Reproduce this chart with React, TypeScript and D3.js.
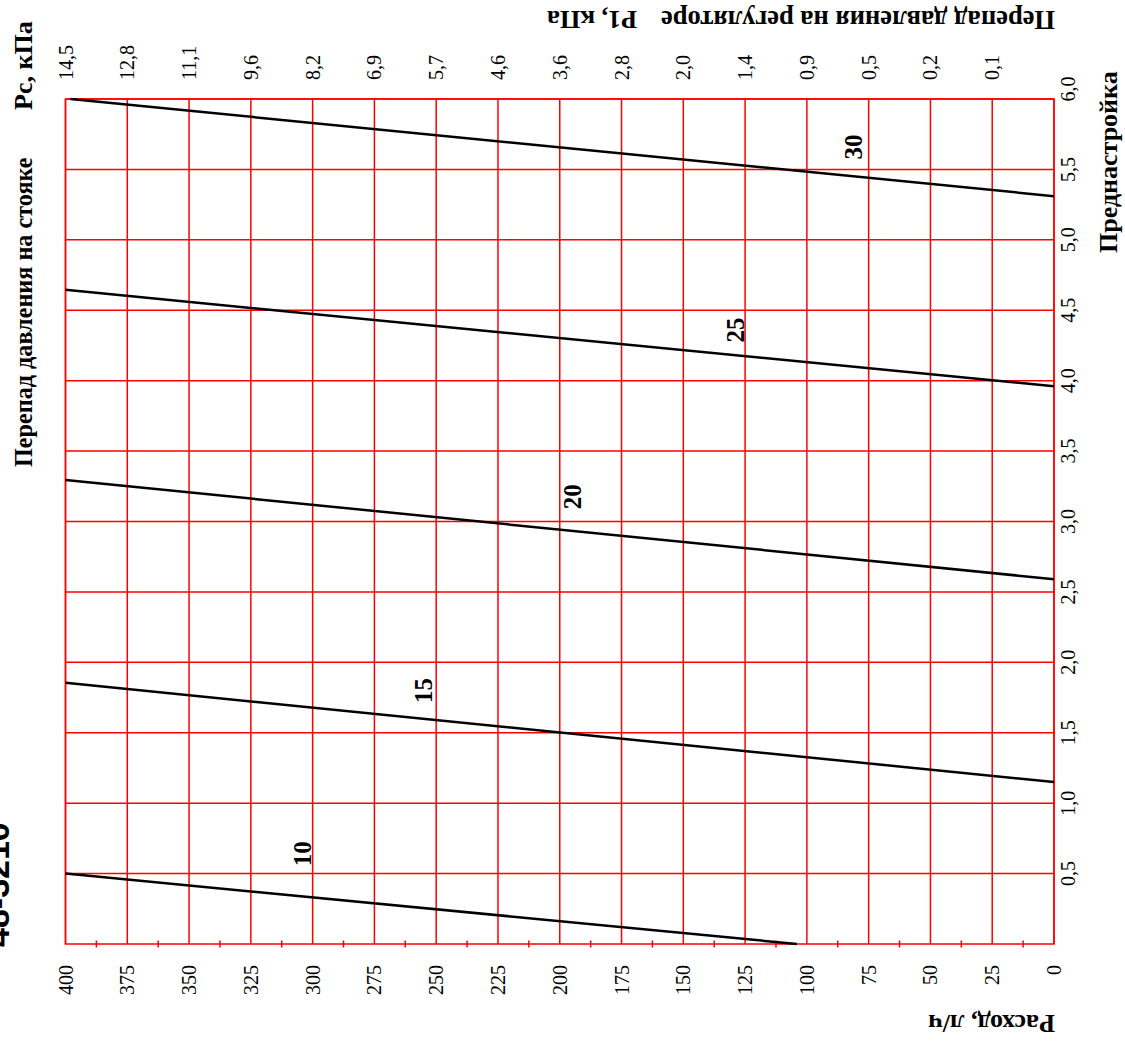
import React from 'react'
import * as d3 from 'd3'

// flow axis (drawn left-to-right as 400 -> 0)
const flowTicks = [400, 375, 350, 325, 300, 275, 250, 225, 200, 175, 150, 125, 100, 75, 50, 25, 0]
const flowMinorTicks = [387.5, 362.5, 337.5, 312.5, 287.5, 262.5, 237.5, 212.5, 187.5, 162.5, 137.5, 112.5, 87.5, 62.5, 37.5, 12.5]

// P1 labels shown on top at the flow positions 400..25
const p1Flows = [400, 375, 350, 325, 300, 275, 250, 225, 200, 175, 150, 125, 100, 75, 50, 25]
const p1Labels = ['14,5', '12,8', '11,1', '9,6', '8,2', '6,9', '5,7', '4,6', '3,6', '2,8', '2,0', '1,4', '0,9', '0,5', '0,2', '0,1']

// presetting axis
const presetTicks = [0.5, 1, 1.5, 2, 2.5, 3, 3.5, 4, 4.5, 5, 5.5, 6]
const presetLabels = ['0,5', '1,0', '1,5', '2,0', '2,5', '3,0', '3,5', '4,0', '4,5', '5,0', '5,5', '6,0']

// riser pressure lines (Pc, kPa): two end points each
const seriesNames = ['10', '15', '20', '25', '30']
const lineFlowA = [104, 0, 0, 0, 0]
const linePresetA = [0, 1.15, 2.59, 3.96, 5.31]
const lineFlowB = [400, 400, 400, 400, 398]
const linePresetB = [0.5, 1.855, 3.295, 4.645, 6.0]
// where each line's name sits
const labelFlow = [304, 255, 195, 129, 81]
const labelPreset = [0.64, 1.8, 3.175, 4.36, 5.66]

const W = 1125
const H = 1046
const serif = '"Liberation Serif", "Times New Roman", serif'
const sans = '"Liberation Sans", Arial, sans-serif'

export default function App() {
  const x = d3.scaleLinear().domain([400, 0]).range([65.5, 1054])
  const y = d3.scaleLinear().domain([0, 6]).range([944, 99])
  const line = d3.line<[number, number]>().x(d => x(d[0])).y(d => y(d[1]))

  const red = '#ff0000'

  return (
    <svg width={W} height={H} style={{ position: 'absolute', left: 0, top: 0, background: '#fff' }}>
      {/* grid */}
      {flowTicks.map(f => (
        <line key={'v' + f} x1={x(f)} x2={x(f)} y1={y(0)} y2={y(6)} stroke={red} strokeWidth={1.5} />
      ))}
      {presetTicks.map(p => (
        <line key={'h' + p} x1={x(400)} x2={x(0)} y1={y(p)} y2={y(p)} stroke={red} strokeWidth={1.5} />
      ))}
      {flowMinorTicks.map(f => (
        <line key={'m' + f} x1={x(f)} x2={x(f)} y1={y(0) - 3.5} y2={y(0) + 3.5} stroke={red} strokeWidth={1.5} />
      ))}
      <rect x={x(400)} y={y(6)} width={x(0) - x(400)} height={y(0) - y(6)} fill="none" stroke={red} strokeWidth={1.5} />

      {/* lines */}
      {seriesNames.map((s, i) => (
        <path
          key={'l' + s}
          d={line([[lineFlowA[i], linePresetA[i]], [lineFlowB[i], linePresetB[i]]]) || ''}
          stroke="#000"
          strokeWidth={2.5}
          fill="none"
        />
      ))}
      {seriesNames.map((s, i) => (
        <text
          key={'t' + s}
          transform={`translate(${x(labelFlow[i])},${y(labelPreset[i])}) rotate(-90)`}
          textAnchor="middle"
          dominantBaseline="central"
          fontFamily={serif}
          fontWeight="bold"
          fontSize={25}
        >
          {s}
        </text>
      ))}

      {/* bottom flow labels */}
      {flowTicks.map(f => (
        <text
          key={'bl' + f}
          transform={`translate(${x(f)},965) rotate(-90)`}
          textAnchor="end"
          dominantBaseline="central"
          fontFamily={serif}
          fontSize={20}
        >
          {f}
        </text>
      ))}

      {/* top P1 labels */}
      {p1Flows.map((f, i) => (
        <text
          key={'tl' + f}
          transform={`translate(${x(f)},80) rotate(-90)`}
          textAnchor="start"
          dominantBaseline="central"
          fontFamily={serif}
          fontSize={20}
        >
          {p1Labels[i]}
        </text>
      ))}

      {/* right preset labels */}
      {presetTicks.map((p, i) => (
        <text
          key={'rl' + p}
          transform={`translate(1068,${y(p) - (p === 6 ? 10 : 0)}) rotate(-90)`}
          textAnchor="middle"
          dominantBaseline="central"
          fontFamily={serif}
          fontSize={20}
        >
          {presetLabels[i]}
        </text>
      ))}

      {/* titles */}
      <g fontFamily={serif} fontWeight="bold" fontSize={26}>
        <text transform="translate(32,467) rotate(-90)" fontSize={24.2}>Перепад давления на стояке</text>
        <text transform="translate(32,110) rotate(-90)">Рс, кПа</text>
        <text transform="translate(8.5,947) rotate(-90)" fontFamily={sans} fontSize={34}>48-3210</text>
        <text transform="translate(1117,253) rotate(-90)">Преднастройка</text>
        <text transform="translate(1055,11) rotate(180)" fontSize={26.5}>Перепад давления на регуляторе</text>
        <text transform="translate(637,11) rotate(180)">Р1, кПа</text>
        <text transform="translate(1055,1015) rotate(180)">Расход, л/ч</text>
      </g>
    </svg>
  )
}
